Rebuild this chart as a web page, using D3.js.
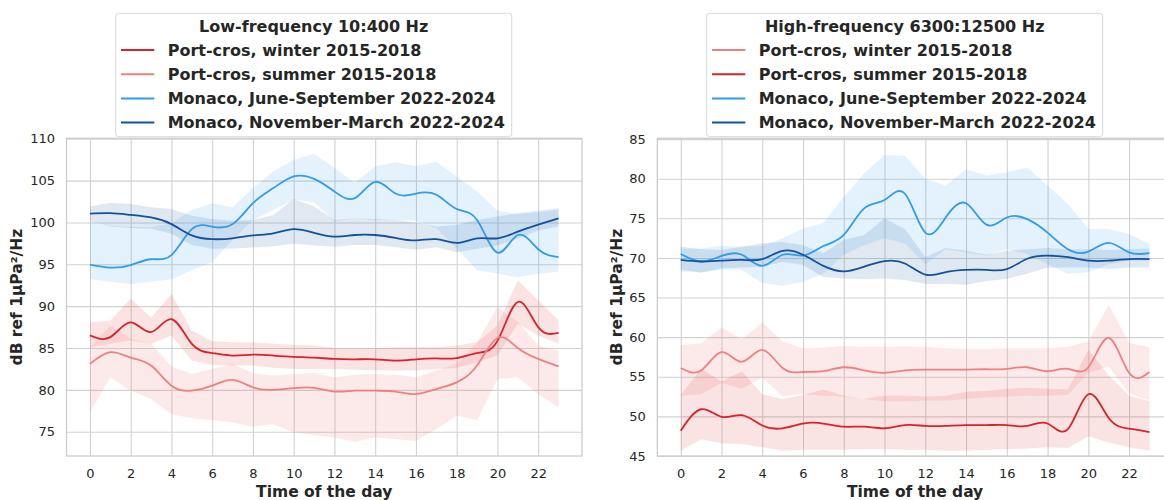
<!DOCTYPE html>
<html>
<head>
<meta charset="utf-8">
<script src="https://cdn.jsdelivr.net/npm/d3@7"></script>
<style>
	body { margin: 0; background: #fff; }
	svg { display: block; font-family: "DejaVu Sans", sans-serif; }
	.tick line { stroke: #d2d2d2; stroke-width: 1.1; }
	.tick text { fill: #262626; font-size: 13px; }
</style>
</head>
<body>
<script>
// hours of the day (x categories)
const hours = [0, 1, 2, 3, 4, 5, 6, 7, 8, 9, 10, 11, 12, 13, 14, 15, 16, 17, 18, 19, 20, 21, 22, 23];
const xTicks = [0, 2, 4, 6, 8, 10, 12, 14, 16, 18, 20, 22];
const lowTicks = [75, 80, 85, 90, 95, 100, 105, 110];
const highTicks = [45, 50, 55, 60, 65, 70, 75, 80, 85];

const seriesLabels = ['Port-cros, winter 2015-2018', 'Port-cros, summer 2015-2018',
	'Monaco, June-September 2022-2024', 'Monaco, November-March 2022-2024'];

// low-frequency 10:400 Hz
const lowWinterMean = [86.5, 86.3, 88.05, 86.9, 88.45, 85.5, 84.4, 84.1, 84.2, 84.1, 83.95, 83.85, 83.7, 83.65, 83.65, 83.5, 83.65, 83.75, 83.8, 84.4, 85.85, 90.5, 87.5, 86.8];
const lowWinterHi = [88.1, 88.25, 90.9, 88.6, 91.45, 87.1, 85.8, 85.7, 85.65, 85.5, 85.4, 85.3, 85.0, 85.0, 85.0, 85.1, 85.1, 85.1, 85.3, 85.7, 87.7, 93.1, 90.7, 88.3];
const lowWinterLo = [85.1, 85.5, 85.9, 85.5, 86.5, 83.5, 83.0, 82.9, 82.9, 82.65, 82.5, 82.5, 82.5, 82.4, 82.35, 82.3, 82.35, 82.5, 82.6, 83.3, 84.1, 87.9, 86.5, 85.5];

const lowSummerMean = [83.1, 84.5, 83.85, 82.9, 80.5, 79.9, 80.5, 81.2, 80.3, 80.0, 80.2, 80.25, 79.8, 79.9, 79.9, 79.8, 79.5, 80.1, 80.9, 82.9, 86.2, 85.0, 83.7, 82.8];
const lowSummerHi = [85.1, 87.7, 86.1, 85.5, 82.8, 81.9, 82.5, 83.1, 82.0, 81.7, 81.9, 82.0, 81.5, 81.8, 81.9, 81.8, 81.5, 82.3, 83.1, 85.7, 89.9, 88.1, 85.3, 84.7];
const lowSummerLo = [77.3, 81.5, 79.9, 78.9, 77.1, 76.6, 76.4, 76.1, 75.6, 75.9, 74.9, 74.6, 74.3, 73.8, 74.3, 74.1, 73.9, 75.3, 76.9, 76.4, 81.3, 81.5, 79.5, 77.9];

const lowJuneMean = [94.95, 94.6, 94.9, 95.6, 96.1, 99.2, 99.5, 99.8, 102.3, 104.1, 105.5, 105.2, 103.7, 102.9, 104.85, 103.45, 103.45, 103.3, 101.6, 100.3, 96.4, 98.5, 96.8, 95.85];
const lowJuneHi = [100.3, 99.6, 99.45, 99.45, 99.9, 101.5, 102.3, 101.8, 104.1, 106.1, 107.5, 108.2, 106.5, 104.7, 106.7, 107.2, 106.7, 107.25, 105.5, 103.7, 101.4, 101.0, 101.2, 101.5];
const lowJuneLo = [93.2, 92.9, 92.65, 92.9, 93.2, 94.3, 95.25, 97.9, 100.3, 101.5, 102.7, 102.4, 100.1, 100.5, 100.3, 100.3, 100.2, 99.3, 96.9, 94.3, 93.9, 93.45, 93.9, 94.1];

const lowNovMean = [101.05, 101.1, 100.9, 100.6, 99.8, 98.45, 98.0, 98.1, 98.45, 98.7, 99.2, 98.75, 98.3, 98.5, 98.5, 98.15, 97.85, 98.0, 97.55, 98.1, 98.1, 98.9, 99.75, 100.5];
const lowNovHi = [101.9, 102.35, 102.2, 101.8, 101.6, 100.8, 100.4, 100.2, 100.3, 100.9, 102.8, 101.9, 100.3, 100.5, 100.4, 100.3, 100.0, 99.5, 99.7, 100.3, 100.7, 101.1, 101.4, 101.7];
const lowNovLo = [100.25, 99.5, 99.35, 99.25, 98.65, 97.3, 96.85, 96.9, 97.0, 97.15, 97.45, 97.25, 97.1, 97.3, 97.3, 97.05, 96.75, 97.05, 96.45, 96.85, 97.25, 98.05, 99.05, 99.5];

// high-frequency 6300:12500 Hz
const highWinterMean = [56.1, 55.8, 58.1, 56.9, 58.4, 56.1, 55.6, 55.7, 56.2, 55.8, 55.5, 55.8, 55.9, 55.9, 55.9, 55.95, 56.0, 56.2, 55.7, 56.0, 56.2, 59.9, 55.5, 55.6];
const highWinterHi = [59.0, 59.2, 61.25, 59.75, 61.85, 59.45, 58.6, 58.7, 58.9, 58.8, 58.8, 58.85, 58.8, 58.6, 58.5, 58.5, 58.6, 58.6, 58.6, 58.8, 59.45, 64.1, 59.25, 58.75];
const highWinterLo = [52.6, 52.8, 54.2, 53.5, 54.9, 52.55, 52.8, 52.6, 52.5, 52.2, 51.9, 51.9, 52.0, 52.0, 52.2, 52.4, 52.5, 52.6, 52.6, 52.7, 55.5, 56.3, 52.9, 52.0];

const highSummerMean = [48.2, 50.9, 49.95, 50.15, 48.85, 48.5, 49.1, 49.1, 48.7, 48.7, 48.5, 48.9, 48.8, 48.8, 48.9, 48.9, 48.9, 48.8, 49.1, 48.4, 52.8, 49.8, 48.45, 48.0];
const highSummerHi = [52.7, 56.0, 54.4, 55.7, 52.8, 52.2, 52.7, 53.4, 52.6, 52.2, 52.6, 52.6, 52.5, 52.6, 53.1, 53.2, 53.5, 53.6, 53.5, 53.4, 58.4, 55.2, 52.6, 51.9];
const highSummerLo = [45.65, 47.1, 46.6, 46.5, 46.1, 45.65, 45.8, 45.8, 45.8, 45.85, 45.85, 45.8, 45.8, 45.65, 45.65, 45.8, 45.85, 45.95, 46.1, 46.0, 47.5, 46.7, 46.1, 45.65];

const highJuneMean = [70.5, 69.55, 70.25, 70.4, 69.0, 70.4, 70.3, 71.5, 72.9, 76.25, 77.3, 78.1, 73.2, 75.1, 76.9, 74.2, 75.1, 74.9, 73.2, 71.1, 70.8, 71.9, 70.7, 70.6];
const highJuneHi = [71.2, 71.2, 71.5, 71.4, 71.5, 72.5, 73.7, 74.4, 77.7, 80.7, 83.0, 82.9, 80.0, 79.1, 81.2, 80.4, 80.8, 81.4, 79.1, 76.8, 73.65, 73.65, 73.0, 71.8];
const highJuneLo = [68.3, 68.15, 68.5, 68.5, 66.8, 66.5, 67.0, 68.0, 70.4, 71.6, 72.5, 71.8, 69.2, 71.1, 70.7, 70.3, 71.1, 70.5, 69.2, 68.0, 68.2, 69.2, 69.65, 69.65];

const highNovMean = [69.75, 69.55, 69.65, 69.75, 69.85, 70.9, 70.4, 69.0, 68.3, 68.9, 69.6, 69.3, 67.9, 68.2, 68.5, 68.5, 68.6, 69.9, 70.3, 70.1, 69.65, 69.65, 69.85, 69.85];
const highNovHi = [71.4, 71.1, 71.0, 71.4, 71.85, 72.0, 71.6, 70.6, 72.3, 72.9, 75.0, 73.65, 70.1, 71.25, 70.9, 70.4, 70.9, 71.1, 71.25, 71.1, 71.1, 71.0, 71.1, 71.2];
const highNovLo = [68.5, 68.15, 68.7, 68.8, 68.9, 69.5, 69.1, 67.6, 67.4, 67.3, 67.4, 67.2, 66.7, 66.7, 66.6, 67.1, 67.35, 68.0, 68.8, 68.8, 68.8, 68.6, 68.8, 68.8];

const darkRed = '#d8232a', lightRed = '#f08080', lightBlue = '#2f9cec', darkBlue = '#12529c';

let svg = d3.select('body').append('svg')
	.attr('width', 1164)
	.attr('height', 500);

let panels = [
	{
		left: 66.5, right: 582, top: 138.3, bottom: 456,
		yDomain: [72.1, 110.05], yTicks: lowTicks,
		title: 'Low-frequency 10:400 Hz', legendLeft: 115.7, legendRight: 511.7, yLabelX: 22,
		series: [
			{ color: darkRed, alpha: 0.13, mean: lowWinterMean, lo: lowWinterLo, hi: lowWinterHi },
			{ color: lightRed, alpha: 0.17, mean: lowSummerMean, lo: lowSummerLo, hi: lowSummerHi },
			{ color: lightBlue, alpha: 0.13, mean: lowJuneMean, lo: lowJuneLo, hi: lowJuneHi },
			{ color: darkBlue, alpha: 0.13, mean: lowNovMean, lo: lowNovLo, hi: lowNovHi }
		]
	},
	{
		left: 657.3, right: 1172.9, top: 138.3, bottom: 456,
		yDomain: [45, 85.1], yTicks: highTicks,
		title: 'High-frequency 6300:12500 Hz', legendLeft: 706.7, legendRight: 1102.7, yLabelX: 622,
		series: [
			{ color: lightRed, alpha: 0.17, mean: highWinterMean, lo: highWinterLo, hi: highWinterHi },
			{ color: darkRed, alpha: 0.13, mean: highSummerMean, lo: highSummerLo, hi: highSummerHi },
			{ color: lightBlue, alpha: 0.13, mean: highJuneMean, lo: highJuneLo, hi: highJuneHi },
			{ color: darkBlue, alpha: 0.13, mean: highNovMean, lo: highNovLo, hi: highNovHi }
		]
	}
];

panels.forEach(drawPanel);

function drawPanel(p) {
	let w = p.right - p.left;
	let h = p.bottom - p.top;

	let x = d3.scaleLinear().domain([-1.15, 24.15]).range([0, w]);
	let y = d3.scaleLinear().domain(p.yDomain).range([h, 0]);

	let g = svg.append('g').attr('transform', `translate(${p.left},${p.top})`);

	// grid + tick labels
	g.append('g')
		.attr('transform', `translate(0,${h})`)
		.call(d3.axisBottom(x).tickValues(xTicks).tickSize(-h).tickPadding(12.5).tickFormat(d3.format('d')))
		.call(a => a.select('.domain').remove())
		.call(a => a.selectAll('text').attr('font-family', 'DejaVu Sans'));

	g.append('g')
		.call(d3.axisLeft(y).tickValues(p.yTicks).tickSize(-w).tickPadding(11.5).tickFormat(d3.format('d')))
		.call(a => a.select('.domain').remove())
		.call(a => a.selectAll('text').attr('font-family', 'DejaVu Sans'));

	// confidence bands
	let band = d3.area()
		.x((d, i) => x(hours[i]))
		.y0(d => y(d[0]))
		.y1(d => y(d[1]));

	p.series.forEach(s => {
		g.append('path')
			.datum(s.lo.map((v, i) => [v, s.hi[i]]))
			.attr('d', band)
			.attr('fill', s.color)
			.attr('fill-opacity', s.alpha)
			.attr('stroke', 'none');
	});

	// smoothed mean lines
	let line = d3.line()
		.x((d, i) => x(hours[i]))
		.y(d => y(d))
		.curve(d3.curveNatural);

	p.series.forEach(s => {
		g.append('path')
			.datum(s.mean)
			.attr('d', line)
			.attr('fill', 'none')
			.attr('stroke', s.color)
			.attr('stroke-width', 1.8);
	});

	// spines
	g.append('rect')
		.attr('width', w)
		.attr('height', h)
		.attr('fill', 'none')
		.attr('stroke', '#cccccc')
		.attr('stroke-width', 1.3);

	// axis labels
	svg.append('text')
		.attr('x', p.left + w / 2)
		.attr('y', 497)
		.attr('text-anchor', 'middle')
		.attr('font-size', '15.5px')
		.attr('font-weight', 'bold')
		.attr('fill', '#262626')
		.text('Time of the day');

	svg.append('text')
		.attr('transform', `translate(${p.yLabelX},${p.top + h / 2}) rotate(-90)`)
		.attr('text-anchor', 'middle')
		.attr('font-size', '15.5px')
		.attr('font-weight', 'bold')
		.attr('fill', '#262626')
		.text('dB ref 1\u00b5Pa\u00b2/Hz');

	// legend
	let lg = svg.append('g');
	lg.append('rect')
		.attr('x', p.legendLeft)
		.attr('y', 13.3)
		.attr('width', p.legendRight - p.legendLeft)
		.attr('height', 123.4)
		.attr('rx', 3)
		.attr('fill', '#ffffff')
		.attr('fill-opacity', 0.85)
		.attr('stroke', '#d9d9d9')
		.attr('stroke-width', 1);

	lg.append('text')
		.attr('x', (p.legendLeft + p.legendRight) / 2)
		.attr('y', 32.3)
		.attr('text-anchor', 'middle')
		.attr('font-size', '16px')
		.attr('font-weight', 'bold')
		.attr('fill', '#262626')
		.text(p.title);

	let rows = lg.selectAll('.row')
		.data(p.series)
		.enter()
		.append('g')
		.attr('transform', (d, i) => `translate(${p.legendLeft},${50 + i * 24.2})`);

	rows.append('line')
		.attr('x1', 5.3)
		.attr('x2', 38.6)
		.attr('stroke', d => d.color)
		.attr('stroke-width', 2);

	rows.append('text')
		.attr('x', 52)
		.attr('y', 5.8)
		.attr('font-size', '16px')
		.attr('font-weight', 'bold')
		.attr('fill', '#262626')
		.text((d, i) => seriesLabels[i]);
}
</script>
</body>
</html>
